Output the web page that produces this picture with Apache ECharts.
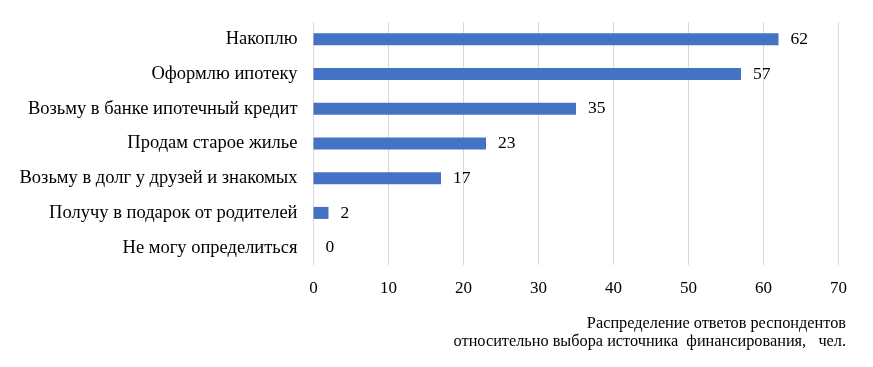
<!DOCTYPE html>
<html><head><meta charset="utf-8">
<script src="https://cdn.jsdelivr.net/npm/echarts@6/dist/echarts.min.js"></script>
<style>html,body{margin:0;padding:0;background:#fff}#c{width:873px;height:367px}</style>
</head><body><div id="c"></div>
<script>
const categories = ["Накоплю","Оформлю ипотеку","Возьму в банке ипотечный кредит","Продам старое жилье","Возьму в долг у друзей и знакомых","Получу в подарок от родителей","Не могу определиться"];
const values = [62,57,35,23,17,2,0];
const xTicks = [0,10,20,30,40,50,60,70];
const caption = ["Распределение ответов респондентов","относительно выбора источника  финансирования,   чел."];
const F = '"Liberation Serif", "Times New Roman", serif';
const chart = echarts.init(document.getElementById('c'));
chart.setOption({
  animation:false,
  grid:{left:313.5,right:34.5,top:22,bottom:102},
  xAxis:{type:'value',min:xTicks[0],max:xTicks[xTicks.length-1],interval:10,
    axisLine:{show:false},axisTick:{show:false},
    splitLine:{lineStyle:{color:'#d9d9d9',width:1}},
    axisLabel:{color:'#000',fontFamily:F,fontSize:17,margin:15}},
  yAxis:{type:'category',inverse:true,data:categories,
    axisLine:{show:false},axisTick:{show:false},
    axisLabel:{color:'#000',fontFamily:F,fontSize:18.5,margin:16,padding:[4,0,0,0]}},
  series:[{type:'bar',data:values,barWidth:12,itemStyle:{color:'#4472c4'},
    label:{show:true,position:'right',distance:12,color:'#000',fontFamily:F,fontSize:17.5,padding:[3,0,0,0]}}],
  graphic:[{type:'text',x:846,y:315,style:{text:caption.join('\n'),align:'right',verticalAlign:'top',font:'16.3px '+F,lineHeight:18,fill:'#000'}}]
});
</script></body></html>
